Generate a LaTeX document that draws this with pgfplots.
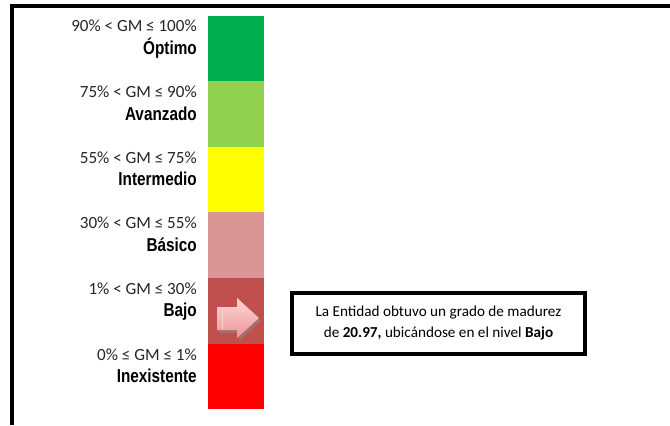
\documentclass[border=0pt]{standalone}
\usepackage{fontspec}
\setmainfont{Carlito}
\newfontfamily\narrowfont[FakeStretch=0.82]{Liberation Sans}
\usepackage{pgfplots}
\pgfplotsset{compat=1.18}
\definecolor{cOptimo}{RGB}{0,176,80}
\definecolor{cAvanzado}{RGB}{146,208,80}
\definecolor{cIntermedio}{RGB}{255,255,0}
\definecolor{cBasico}{RGB}{218,150,148}
\definecolor{cBajo}{RGB}{192,80,77}
\definecolor{cInex}{RGB}{255,0,0}
\begin{document}
\begin{tikzpicture}
\begin{axis}[
  scale only axis, width=502.5pt, height=318.75pt,
  xmin=0, xmax=670, ymin=-0.239, ymax=6.239,
  hide axis, ybar stacked, bar width=55.7,
  clip=false,
]
\addplot[fill=cInex, draw=none] coordinates {(236.2,1)};
\addplot[fill=cBajo, draw=none] coordinates {(236.2,1)};
\addplot[fill=cBasico, draw=none] coordinates {(236.2,1)};
\addplot[fill=cIntermedio, draw=none] coordinates {(236.2,1)};
\addplot[fill=cAvanzado, draw=none] coordinates {(236.2,1)};
\addplot[fill=cOptimo, draw=none] coordinates {(236.2,1)};
\end{axis}
\begin{scope}[shift={(current axis.north west)}, x=0.75pt, y=-0.75pt]
  % frame
  \draw[line width=2.6pt] (12,425) -- (12,6) -- (672,6);
  % labels
  \foreach \c/\r/\n in {48.5/{90\% < GM ≤ 100\%}/Óptimo,
                        114.1/{75\% < GM ≤ 90\%}/Avanzado,
                        179.7/{55\% < GM ≤ 75\%}/Intermedio,
                        245.3/{30\% < GM ≤ 55\%}/Básico,
                        310.9/{1\% < GM ≤ 30\%}/Bajo,
                        376.5/{0\% ≤ GM ≤ 1\%}/Inexistente}{
    \node[anchor=base east, inner sep=0pt, font=\fontsize{12.8}{14}\selectfont, text=black!85] at (197,\c-16.5) {\r};
    \node[anchor=base east, inner sep=0pt, font=\narrowfont\bfseries\fontsize{14}{16}\selectfont] at (197,\c+6) {\n};
  }
  % arrow
  \fill[black!45, opacity=0.5] (219,310) -- (239,310) -- (239,301) -- (261,321) -- (239,341) -- (239,333) -- (219,333) -- cycle;
  \shade[top color={rgb,255:red,252;green,215;blue,215}, bottom color={rgb,255:red,236;green,150;blue,150}]
     (217,307) -- (237,307) -- (237,298) -- (259,318) -- (237,338) -- (237,330) -- (217,330) -- cycle;
  \draw[white!80!red, line width=0.6pt] (222,308) -- (222,329);
  % text box
  \draw[line width=2.3pt] (292,293) rectangle (585,354);
  \node[anchor=base, inner sep=0pt, font=\fontsize{11.4}{13}\selectfont] at (438.5,316.7) {La Entidad obtuvo un grado de madurez};
  \node[anchor=base, inner sep=0pt, font=\fontsize{11.4}{13}\selectfont] at (438.5,337.3) {de \textbf{20.97,} ubicándose en el nivel \textbf{Bajo}};
\end{scope}
\pgfresetboundingbox
\useasboundingbox (current axis.south west) rectangle (current axis.north east);
\end{tikzpicture}
\end{document}
